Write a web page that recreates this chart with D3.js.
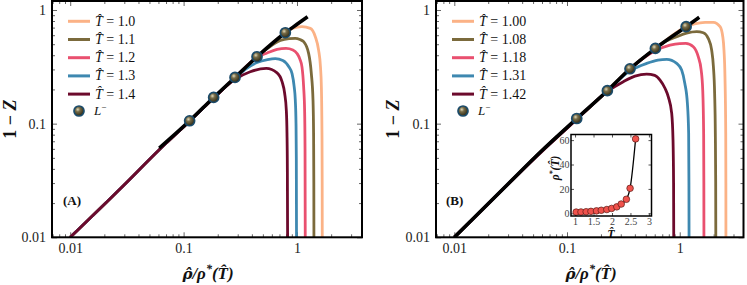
<!DOCTYPE html>
<html><head><meta charset="utf-8">
<script src="https://cdn.jsdelivr.net/npm/d3@7"></script>
<style>body{margin:0;background:#fff}svg{display:block;font-family:"Liberation Serif","DejaVu Serif",serif}text{font-family:"Liberation Serif","DejaVu Serif",serif}</style>
</head><body>
<svg id="c" width="747" height="285"></svg>
<script>
// ---------- data ----------
const xTickValues = [0.01, 0.1, 1];
const yTickValues = [0.01, 0.1, 1];
const tickLabels = ["0.01", "0.1", "1"];
const tempsA = ["1.0", "1.1", "1.2", "1.3", "1.4"];
const tempsB = ["1.00", "1.08", "1.18", "1.31", "1.42"];
const seriesColors = ["#fbb286", "#7b6a3c", "#e9506f", "#3e88b0", "#6c0a2c"];

// Panel A curves [rho/rho*, 1-Z]
const A_T100 = [[0.01,0.01],[0.03,0.029],[0.061,0.059],[0.113,0.105],[0.184,0.168],[0.284,0.254],[0.444,0.387],[0.789,0.628],[0.873,0.676],[0.98,0.705],[1.106,0.713],[1.31,0.689],[1.45,0.582],[1.55,0.444],[1.61,0.317],[1.64,0.211],[1.66,0.082],[1.667,0.03],[1.67,0.01]];
const A_T110 = [[0.01,0.01],[0.03,0.029],[0.061,0.059],[0.113,0.105],[0.184,0.168],[0.284,0.254],[0.444,0.386],[0.55,0.46],[0.713,0.54],[0.85,0.56],[0.966,0.563],[1.06,0.55],[1.144,0.526],[1.266,0.415],[1.337,0.277],[1.384,0.161],[1.40,0.082],[1.407,0.03],[1.41,0.01]];
const A_T120 = [[0.01,0.01],[0.03,0.029],[0.061,0.059],[0.113,0.105],[0.184,0.168],[0.284,0.254],[0.444,0.384],[0.544,0.418],[0.667,0.45],[0.80,0.459],[0.92,0.445],[1.0,0.415],[1.06,0.37],[1.106,0.316],[1.144,0.211],[1.167,0.131],[1.177,0.06],[1.182,0.01]];
const A_T130 = [[0.01,0.01],[0.03,0.029],[0.061,0.059],[0.113,0.105],[0.184,0.168],[0.284,0.252],[0.35,0.30],[0.444,0.345],[0.55,0.366],[0.644,0.373],[0.75,0.36],[0.85,0.315],[0.903,0.277],[0.945,0.21],[0.966,0.161],[0.98,0.10],[0.986,0.05],[0.99,0.01]];
const A_T140 = [[0.01,0.01],[0.03,0.029],[0.061,0.059],[0.113,0.105],[0.184,0.168],[0.284,0.245],[0.387,0.286],[0.536,0.306],[0.667,0.280],[0.738,0.234],[0.778,0.185],[0.805,0.131],[0.816,0.082],[0.822,0.04],[0.826,0.01]];
const A_black = [[0.061,0.061],[0.113,0.106],[0.184,0.170],[0.284,0.255],[0.444,0.388],[0.789,0.631],[1.0,0.748],[1.24,0.873]];
const A_dots = [[0.113,0.106],[0.184,0.170],[0.284,0.255],[0.444,0.388],[0.789,0.631]];

// Panel B curves
const B_T100 = [[0.01,0.01],[0.03,0.0295],[0.06,0.058],[0.122,0.110],[0.228,0.194],[0.362,0.303],[0.608,0.457],[1.14,0.713],[1.35,0.755],[1.68,0.779],[1.99,0.779],[2.28,0.713],[2.41,0.582],[2.47,0.444],[2.52,0.258],[2.56,0.082],[2.567,0.03],[2.57,0.01]];
const B_T108 = [[0.01,0.01],[0.03,0.0295],[0.06,0.058],[0.122,0.110],[0.228,0.194],[0.362,0.303],[0.608,0.457],[0.75,0.53],[0.94,0.582],[1.15,0.625],[1.415,0.644],[1.62,0.631],[1.79,0.563],[1.92,0.444],[1.99,0.317],[2.04,0.185],[2.07,0.082],[2.085,0.03],[2.09,0.01]];
const B_T118 = [[0.01,0.01],[0.03,0.0295],[0.06,0.058],[0.122,0.110],[0.228,0.194],[0.362,0.302],[0.48,0.38],[0.608,0.438],[0.82,0.49],[1.0,0.507],[1.13,0.509],[1.32,0.475],[1.46,0.388],[1.55,0.296],[1.60,0.197],[1.63,0.082],[1.637,0.03],[1.64,0.01]];
const B_T131 = [[0.01,0.01],[0.03,0.0295],[0.06,0.058],[0.122,0.110],[0.228,0.194],[0.362,0.292],[0.509,0.339],[0.64,0.362],[0.767,0.368],[0.94,0.339],[1.04,0.296],[1.11,0.226],[1.17,0.15],[1.20,0.082],[1.207,0.03],[1.21,0.01]];
const B_T142 = [[0.01,0.01],[0.03,0.0293],[0.06,0.057],[0.122,0.109],[0.228,0.192],[0.316,0.234],[0.401,0.262],[0.509,0.273],[0.60,0.266],[0.669,0.242],[0.74,0.205],[0.792,0.172],[0.849,0.123],[0.872,0.072],[0.882,0.03],[0.885,0.01]];
const B_black = [[0.01,0.01],[0.03,0.0295],[0.06,0.058],[0.122,0.111],[0.228,0.195],[0.362,0.304],[0.608,0.459],[1.14,0.713],[1.49,0.862]];
const B_dots = [[0.122,0.111],[0.228,0.195],[0.362,0.304],[0.608,0.459],[1.14,0.713]];

// Inset: rho*(T) vs T
const insetT = [1.03,1.16,1.30,1.43,1.58,1.71,1.86,1.99,2.13,2.25,2.39,2.49,2.64];
const insetRho = [1.0,1.1,1.3,1.6,2.0,2.5,3.1,4.0,5.3,7.6,11.5,20.5,61];
const insetXTicks = [1, 1.5, 2, 2.5, 3];
const insetYTicks = [0, 20, 40, 60];

// ---------- drawing ----------
const FONT = '"Liberation Serif","DejaVu Serif",serif';
const svg = d3.select("#c");
const defs = svg.append("defs");
const grad = defs.append("radialGradient").attr("id", "dotg").attr("cx", "0.38").attr("cy", "0.35").attr("r", "0.65");
grad.append("stop").attr("offset", "0").attr("stop-color", "#e0d8b8");
grad.append("stop").attr("offset", "0.35").attr("stop-color", "#776c48");
grad.append("stop").attr("offset", "1").attr("stop-color", "#2e2914");

function minorTicks(domain) {
  const out = [];
  for (let e = -4; e <= 1; e++) for (let k = 2; k <= 9; k++) {
    const v = k * Math.pow(10, e);
    if (v > domain[0] && v < domain[1]) out.push(v);
  }
  return out;
}

function panel(cfg) {
  const {x0, x1, y0, y1, xDom, curves, black, dots, temps, legX, tag, tagX, xlabX, ylabX, id} = cfg;
  const x = d3.scaleLog().domain(xDom).range([x0, x1]);
  const y = d3.scaleLog().domain([0.01, 1.2]).range([y1, y0]);
  const g = svg.append("g");
  defs.append("clipPath").attr("id", "clip" + id).append("rect")
    .attr("x", x0).attr("y", y0).attr("width", x1 - x0).attr("height", y1 - y0);

  const xMin = minorTicks(xDom), yMin = minorTicks([0.01, 1.2]);
  const tickCol = "#666";
  function ax(axisFn, scale, vals, size, transform, labels) {
    const a = axisFn(scale).tickValues(vals).tickSize(size).tickPadding(6)
      .tickFormat(labels ? (d, i) => labels[i] : "");
    const s = g.append("g").attr("transform", transform).call(a);
    s.select(".domain").remove();
    s.selectAll("line").attr("stroke", tickCol).attr("stroke-width", 1);
    s.selectAll("text").attr("font-size", 14).attr("fill", "#222").attr("font-family", FONT);
    return s;
  }
  ax(d3.axisBottom, x, xTickValues, -5, `translate(0,${y1})`, tickLabels);
  ax(d3.axisBottom, x, xMin, -3, `translate(0,${y1})`, null);
  ax(d3.axisTop, x, xTickValues, -5, `translate(0,${y0})`, null);
  ax(d3.axisTop, x, xMin, -3, `translate(0,${y0})`, null);
  ax(d3.axisLeft, y, yTickValues, -5, `translate(${x0},0)`, tickLabels);
  ax(d3.axisLeft, y, yMin, -3, `translate(${x0},0)`, null);
  ax(d3.axisRight, y, yTickValues, -5, `translate(${x1},0)`, null);
  ax(d3.axisRight, y, yMin, -3, `translate(${x1},0)`, null);

  const line = d3.line().x(d => x(d[0])).y(d => y(d[1])).curve(d3.curveMonotoneX);
  const cg = g.append("g").attr("clip-path", `url(#clip${id})`);
  curves.forEach((c, i) => {
    cg.append("path").attr("d", line(c)).attr("fill", "none")
      .attr("stroke", seriesColors[i]).attr("stroke-width", 2.8).attr("stroke-linecap", "butt");
  });
  cg.append("path").attr("d", line(black)).attr("fill", "none")
    .attr("stroke", "#000").attr("stroke-width", 3.6).attr("stroke-linecap", "butt");

  if (cfg.inset) cfg.inset(g);

  g.selectAll(".dot").data(dots).enter().append("circle")
    .attr("cx", d => x(d[0])).attr("cy", d => y(d[1])).attr("r", 5)
    .attr("fill", "url(#dotg)").attr("stroke", "#1b4b6a").attr("stroke-width", 1.7);

  g.append("rect").attr("x", x0).attr("y", y0).attr("width", x1 - x0).attr("height", y1 - y0)
    .attr("fill", "none").attr("stroke", "#000").attr("stroke-width", 2);

  // legend
  const rows = [21.3, 39.5, 57.7, 75.9, 94.1];
  temps.forEach((t, i) => {
    g.append("line").attr("x1", legX).attr("x2", legX + 22).attr("y1", rows[i]).attr("y2", rows[i])
      .attr("stroke", seriesColors[i]).attr("stroke-width", 3);
    const tx = g.append("text").attr("x", legX + 27).attr("y", rows[i] + 4.5).attr("font-size", 14)
      .attr("font-family", FONT).attr("fill", "#111");
    tx.append("tspan").attr("font-style", "italic").text("T\u0302");
    tx.append("tspan").text(" = " + t);
  });
  g.append("circle").attr("cx", legX + 11).attr("cy", 111).attr("r", 5)
    .attr("fill", "url(#dotg)").attr("stroke", "#1b4b6a").attr("stroke-width", 1.7);
  const lt = g.append("text").attr("x", legX + 26).attr("y", 115).attr("font-size", 13)
    .attr("font-family", FONT).attr("fill", "#111");
  lt.append("tspan").attr("font-style", "italic").text("L");
  lt.append("tspan").attr("font-size", 9).attr("dy", -5).text("\u2212");

  g.append("text").attr("x", tagX).attr("y", 205).attr("font-size", 13).attr("font-weight", "bold")
    .attr("font-family", FONT).attr("fill", "#111").text(tag);

  // axis labels
  const xl = g.append("text").attr("x", xlabX).attr("y", 279).attr("text-anchor", "middle")
    .attr("font-size", 17).attr("font-weight", "bold").attr("font-style", "italic")
    .attr("font-family", FONT).attr("fill", "#111");
  xl.append("tspan").attr("font-family", '"DejaVu Serif",serif').attr("font-size", 15).text("\u03C1\u0302");
  xl.append("tspan").text("/\u03C1");
  xl.append("tspan").attr("font-size", 12).attr("dy", -6).text("*");
  xl.append("tspan").attr("dy", 6).text("(T\u0302)");
  const yl = g.append("text").attr("transform", `translate(${ylabX},119) rotate(-90)`).attr("text-anchor", "middle")
    .attr("font-size", 18).attr("font-weight", "bold").attr("font-family", FONT).attr("fill", "#111");
  yl.append("tspan").text("1 \u2212 ");
  yl.append("tspan").attr("font-style", "italic").text("Z");
  return {x, y};
}

panel({id: "A", x0: 52, x1: 362, y0: 1, y1: 237.3, xDom: [0.00691, 3.742],
  curves: [A_T100, A_T110, A_T120, A_T130, A_T140], black: A_black, dots: A_dots,
  temps: tempsA, legX: 68, tag: "(A)", tagX: 63, xlabX: 208, ylabX: 16});

panel({id: "B", x0: 436, x1: 743.5, y0: 1, y1: 237.3, xDom: [0.00688, 3.68],
  curves: [B_T100, B_T108, B_T118, B_T131, B_T142], black: B_black, dots: B_dots,
  temps: tempsB, legX: 452, tag: "(B)", tagX: 446, xlabX: 591, ylabX: 399,
  inset: (g) => {
    const ix0 = 571, ix1 = 651.5, iy0 = 134.5, iy1 = 216;
    const xi = d3.scaleLinear().domain([0.89, 3.07]).range([ix0, ix1]);
    const yi = d3.scaleLinear().domain([-2.2, 64.6]).range([iy1, iy0]);
    const ig = g.append("g");
    ig.append("rect").attr("x", ix0).attr("y", iy0).attr("width", ix1 - ix0).attr("height", iy1 - iy0).attr("fill", "#fff");
    function iax(fn, sc, vals, tr, lab) {
      const s = ig.append("g").attr("transform", tr)
        .call(fn(sc).tickValues(vals).tickSize(-3).tickPadding(1.5).tickFormat(lab ? d3.format("") : ""));
      s.select(".domain").remove();
      s.selectAll("line").attr("stroke", "#555");
      s.selectAll("text").attr("font-size", 10).attr("fill", "#444").attr("font-family", FONT);
    }
    iax(d3.axisBottom, xi, insetXTicks, `translate(0,${iy1})`, true);
    iax(d3.axisTop, xi, insetXTicks, `translate(0,${iy0})`, false);
    iax(d3.axisLeft, yi, insetYTicks, `translate(${ix0},0)`, true);
    iax(d3.axisRight, yi, insetYTicks, `translate(${ix1},0)`, false);
    const pts = insetT.map((t, i) => [t, insetRho[i]]);
    ig.append("path").attr("d", d3.line().x(d => xi(d[0])).y(d => yi(d[1])).curve(d3.curveMonotoneX)(pts))
      .attr("fill", "none").attr("stroke", "#000").attr("stroke-width", 1.3);
    ig.selectAll(".ip").data(pts).enter().append("circle")
      .attr("cx", d => xi(d[0])).attr("cy", d => yi(d[1])).attr("r", 3.3)
      .attr("fill", "#f0524c").attr("stroke", "#5a1a14").attr("stroke-width", 0.7);
    ig.append("rect").attr("x", ix0).attr("y", iy0).attr("width", ix1 - ix0).attr("height", iy1 - iy0)
      .attr("fill", "none").attr("stroke", "#000").attr("stroke-width", 1.5);
    const yl = ig.append("text").attr("transform", "translate(559,168) rotate(-90)").attr("text-anchor", "middle")
      .attr("font-size", 11.5).attr("font-weight", "bold").attr("font-style", "italic")
      .attr("font-family", FONT).attr("fill", "#111");
    yl.append("tspan").text("\u03C1");
    yl.append("tspan").attr("font-size", 8).attr("dy", -4).text("*");
    yl.append("tspan").attr("dy", 4).text("(T\u0302)");
    ig.append("text").attr("x", 611).attr("y", 238).attr("text-anchor", "middle")
      .attr("font-size", 12).attr("font-weight", "bold").attr("font-style", "italic")
      .attr("font-family", FONT).attr("fill", "#111").text("T\u0302");
  }});
</script>
</body></html>
